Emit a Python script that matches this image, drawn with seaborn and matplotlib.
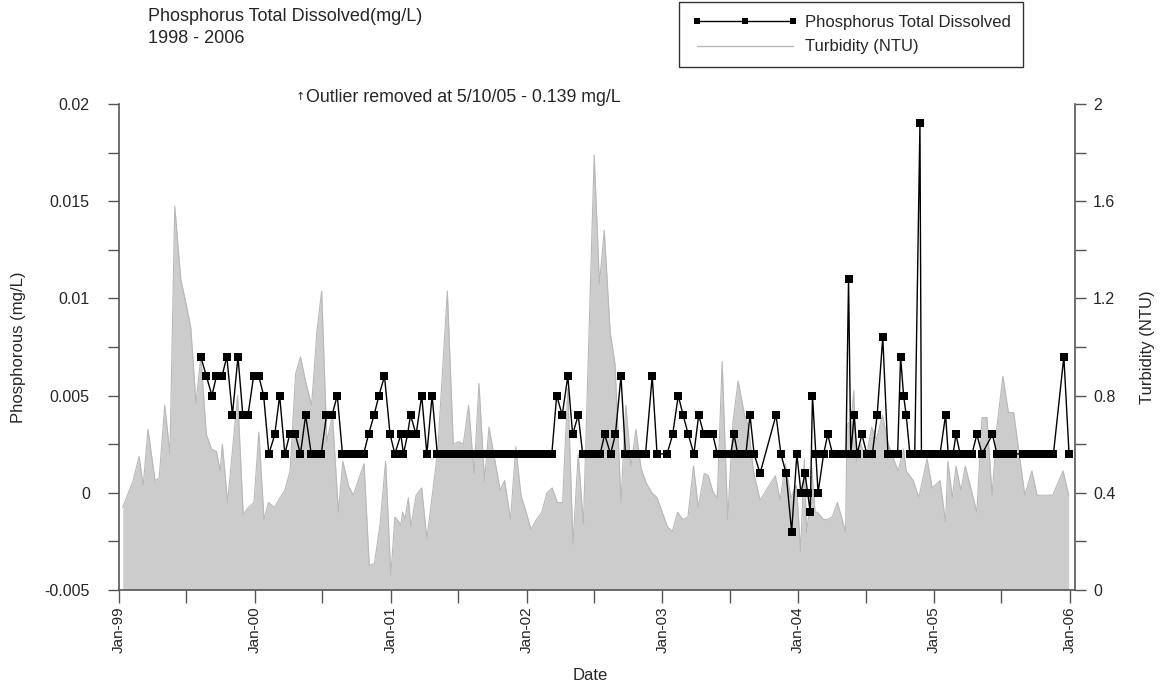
import matplotlib
matplotlib.use("Agg")
import matplotlib.pyplot as plt
import matplotlib.dates as mdates
from matplotlib.lines import Line2D
from matplotlib.ticker import MultipleLocator, FuncFormatter
import pandas as pd
import seaborn as sns

# ---- data ----
# Phosphorus Total Dissolved (mg/L), sample dates and values
p_dates = [
    '1999-08-09', '1999-08-24', '1999-09-08', '1999-09-20', '1999-10-05', '1999-10-18', '1999-11-02', '1999-11-17', '1999-11-30', '1999-12-14', '1999-12-29',
    '2000-01-12', '2000-01-25', '2000-02-08', '2000-02-24', '2000-03-08', '2000-03-22', '2000-04-04', '2000-04-19', '2000-05-03', '2000-05-17', '2000-06-01', '2000-06-15', '2000-06-28',
    '2000-07-12', '2000-07-27', '2000-08-10', '2000-08-24', '2000-09-08', '2000-09-21', '2000-10-05', '2000-10-20', '2000-11-02', '2000-11-17', '2000-11-30', '2000-12-15', '2000-12-30',
    '2001-01-12', '2001-01-28', '2001-02-04', '2001-02-15', '2001-02-23', '2001-03-10', '2001-03-25', '2001-04-08', '2001-04-22',
    '2001-05-06', '2001-05-20', '2001-06-03', '2001-06-17', '2001-07-01', '2001-07-15', '2001-07-29', '2001-08-12', '2001-08-26', '2001-09-09', '2001-09-23', '2001-10-07',
    '2001-10-21', '2001-11-04', '2001-11-18', '2001-12-02', '2001-12-16', '2001-12-30', '2002-01-13', '2002-01-27', '2002-02-10', '2002-02-24', '2002-03-10',
    '2002-03-23', '2002-04-07', '2002-04-22', '2002-05-05', '2002-05-20', '2002-06-01', '2002-06-13', '2002-06-24', '2002-07-06', '2002-07-18', '2002-07-30', '2002-08-15', '2002-08-28', '2002-09-12',
    '2002-09-24', '2002-10-08', '2002-10-21', '2002-11-04', '2002-11-17', '2002-12-05', '2002-12-18',
    '2003-01-14', '2003-01-29', '2003-02-13', '2003-02-26', '2003-03-12', '2003-03-27', '2003-04-09', '2003-04-23', '2003-05-05', '2003-05-17',
    '2003-05-29', '2003-06-10', '2003-06-22', '2003-07-04', '2003-07-13', '2003-07-23', '2003-08-03', '2003-08-14', '2003-08-25', '2003-09-05', '2003-09-21',
    '2003-11-03', '2003-11-16', '2003-11-30', '2003-12-15', '2003-12-29',
    '2004-01-09', '2004-01-20', '2004-01-27', '2004-02-03', '2004-02-09', '2004-02-18', '2004-02-24', '2004-03-10', '2004-03-21', '2004-04-03', '2004-04-17',
    '2004-05-09', '2004-05-16', '2004-05-22', '2004-05-31', '2004-06-08', '2004-06-21', '2004-07-04', '2004-07-19', '2004-08-01', '2004-08-16', '2004-08-30', '2004-09-11', '2004-09-25',
    '2004-10-03', '2004-10-11', '2004-10-18', '2004-10-28', '2004-11-10', '2004-11-24', '2004-11-28', '2004-12-09', '2004-12-21', '2005-01-01',
    '2005-01-17', '2005-02-01', '2005-02-08', '2005-02-21', '2005-03-01', '2005-03-12', '2005-03-23', '2005-04-03', '2005-04-13', '2005-04-26', '2005-05-10',
    '2005-06-07', '2005-06-19', '2005-07-01', '2005-07-11', '2005-07-22', '2005-08-02', '2005-08-29',
    '2005-09-11', '2005-09-25', '2005-10-08', '2005-10-22', '2005-11-05', '2005-11-18', '2005-12-16', '2005-12-30',
]
p_vals = [
    0.007, 0.006, 0.005, 0.006, 0.006, 0.007, 0.004, 0.007, 0.004, 0.004, 0.006,
    0.006, 0.005, 0.002, 0.003, 0.005, 0.002, 0.003, 0.003, 0.002, 0.004, 0.002, 0.002, 0.002,
    0.004, 0.004, 0.005, 0.002, 0.002, 0.002, 0.002, 0.002, 0.003, 0.004, 0.005, 0.006, 0.003,
    0.002, 0.003, 0.002, 0.003, 0.004, 0.003, 0.005, 0.002, 0.005,
    0.002, 0.002, 0.002, 0.002, 0.002, 0.002, 0.002, 0.002, 0.002, 0.002, 0.002, 0.002,
    0.002, 0.002, 0.002, 0.002, 0.002, 0.002, 0.002, 0.002, 0.002, 0.002, 0.002,
    0.005, 0.004, 0.006, 0.003, 0.004, 0.002, 0.002, 0.002, 0.002, 0.002, 0.003, 0.002, 0.003, 0.006,
    0.002, 0.002, 0.002, 0.002, 0.002, 0.006, 0.002,
    0.002, 0.003, 0.005, 0.004, 0.003, 0.002, 0.004, 0.003, 0.003, 0.003,
    0.002, 0.002, 0.002, 0.002, 0.003, 0.002, 0.002, 0.002, 0.004, 0.002, 0.001,
    0.004, 0.002, 0.001, -0.002, 0.002,
    0.000, 0.001, 0.000, -0.001, 0.005, 0.002, 0.000, 0.002, 0.003, 0.002, 0.002,
    0.002, 0.011, 0.002, 0.004, 0.002, 0.003, 0.002, 0.002, 0.004, 0.008, 0.002, 0.002, 0.002,
    0.007, 0.005, 0.004, 0.002, 0.002, 0.019, 0.002, 0.002, 0.002, 0.002,
    0.002, 0.004, 0.002, 0.002, 0.003, 0.002, 0.002, 0.002, 0.002, 0.003, 0.002,
    0.003, 0.002, 0.002, 0.002, 0.002, 0.002, 0.002,
    0.002, 0.002, 0.002, 0.002, 0.002, 0.002, 0.007, 0.002,
]

# Turbidity (NTU), sample dates and values
t_dates = [
    '1999-01-11', '1999-02-08', '1999-02-24', '1999-03-07', '1999-03-20', '1999-04-08', '1999-04-19', '1999-05-04', '1999-05-18', '1999-05-31', '1999-06-16', '1999-06-30', '1999-07-13',
    '1999-07-27', '1999-08-09', '1999-08-24', '1999-09-07', '1999-09-20', '1999-09-30', '1999-10-06', '1999-10-20', '1999-11-16', '1999-12-01', '1999-12-15', '1999-12-30',
    '2000-01-12', '2000-01-26', '2000-02-07', '2000-02-23', '2000-03-09', '2000-03-22', '2000-04-05', '2000-04-20', '2000-05-03', '2000-05-18', '2000-06-02', '2000-06-16',
    '2000-06-29', '2000-07-13', '2000-07-28', '2000-08-13', '2000-08-25', '2000-09-09', '2000-09-22', '2000-10-21', '2000-11-04', '2000-11-18', '2000-12-03', '2000-12-18',
    '2001-01-01', '2001-01-12', '2001-01-28', '2001-02-02', '2001-02-08', '2001-02-17', '2001-02-24', '2001-03-10', '2001-03-25', '2001-04-08', '2001-05-07', '2001-06-02', '2001-06-18',
    '2001-07-02', '2001-07-15', '2001-07-29', '2001-08-13', '2001-08-26', '2001-09-10', '2001-09-22', '2001-10-06', '2001-10-22', '2001-11-03', '2001-11-19', '2001-12-03', '2001-12-17', '2001-12-31',
    '2002-01-13', '2002-01-28', '2002-02-11', '2002-02-25', '2002-03-11', '2002-03-25', '2002-04-08', '2002-04-22', '2002-05-06', '2002-05-20', '2002-06-03', '2002-07-02',
    '2002-07-16', '2002-07-29', '2002-08-14', '2002-08-27', '2002-09-12', '2002-09-25', '2002-10-09', '2002-10-22', '2002-11-05', '2002-11-19', '2002-12-04', '2002-12-18',
    '2003-01-01', '2003-01-15', '2003-01-28', '2003-02-11', '2003-02-25', '2003-03-11', '2003-03-26', '2003-04-08', '2003-04-24', '2003-05-05', '2003-05-18', '2003-05-29', '2003-06-11',
    '2003-06-26', '2003-07-10', '2003-07-24', '2003-08-09', '2003-08-21', '2003-09-03', '2003-09-21', '2003-11-01', '2003-11-14', '2003-11-28', '2003-12-13', '2003-12-28',
    '2004-01-08', '2004-01-18', '2004-01-24', '2004-01-31', '2004-02-07', '2004-02-16', '2004-02-22', '2004-03-10', '2004-03-19', '2004-04-02', '2004-04-16', '2004-05-08', '2004-05-12', '2004-05-23', '2004-05-30',
    '2004-06-06', '2004-06-18', '2004-07-02', '2004-07-17', '2004-07-30', '2004-08-15', '2004-08-31', '2004-09-26', '2004-10-11', '2004-10-18', '2004-11-06', '2004-11-21', '2004-12-13', '2004-12-27',
    '2005-01-17', '2005-02-01', '2005-02-07', '2005-02-19', '2005-03-01', '2005-03-14', '2005-03-26', '2005-04-26', '2005-05-10', '2005-05-23', '2005-06-06',
    '2005-06-19', '2005-07-05', '2005-07-20', '2005-08-03', '2005-09-02', '2005-09-21', '2005-10-05', '2005-11-16', '2005-12-14', '2005-12-29',
]
t_vals = [
    0.34, 0.45, 0.55, 0.43, 0.66, 0.45, 0.46, 0.76, 0.56, 1.58, 1.28, 1.18, 1.08,
    0.77, 0.96, 0.64, 0.58, 0.57, 0.49, 0.60, 0.36, 0.80, 0.31, 0.34, 0.36,
    0.65, 0.29, 0.36, 0.34, 0.38, 0.41, 0.49, 0.89, 0.96, 0.85, 0.76, 1.06,
    1.23, 0.61, 0.72, 0.32, 0.53, 0.43, 0.39, 0.52, 0.10, 0.11, 0.27, 0.53,
    0.06, 0.30, 0.27, 0.32, 0.29, 0.38, 0.26, 0.39, 0.42, 0.21, 0.57, 1.23, 0.60,
    0.61, 0.60, 0.76, 0.48, 0.85, 0.45, 0.67, 0.55, 0.41, 0.45, 0.29, 0.59, 0.39, 0.32,
    0.25, 0.29, 0.32, 0.40, 0.42, 0.36, 0.36, 0.83, 0.19, 0.56, 0.27, 1.79,
    1.26, 1.48, 1.06, 0.93, 0.36, 0.76, 0.51, 0.66, 0.50, 0.44, 0.40, 0.38,
    0.32, 0.26, 0.24, 0.32, 0.29, 0.30, 0.51, 0.34, 0.48, 0.47, 0.40, 0.38, 0.94,
    0.29, 0.69, 0.86, 0.73, 0.67, 0.49, 0.37, 0.47, 0.37, 0.52, 0.38, 0.43,
    0.16, 0.54, 0.24, 0.32, 0.50, 0.32, 0.32, 0.29, 0.29, 0.30, 0.36, 0.24, 0.68, 0.70, 0.82,
    0.53, 0.60, 0.54, 0.67, 0.62, 0.72, 0.60, 0.49, 0.58, 0.49, 0.45, 0.38, 0.54, 0.42,
    0.45, 0.28, 0.53, 0.38, 0.51, 0.41, 0.51, 0.32, 0.71, 0.71, 0.39,
    0.67, 0.88, 0.73, 0.73, 0.39, 0.49, 0.39, 0.39, 0.49, 0.39,
]

x_ticks_years = ['1999', '2000', '2001', '2002', '2003', '2004', '2005', '2006']

phos = pd.DataFrame({'date': pd.to_datetime(p_dates), 'mgl': p_vals})
turb = pd.DataFrame({'date': pd.to_datetime(t_dates), 'ntu': t_vals})

# ---- styling ----
sns.set_theme(style="white")
plt.rcParams['font.family'] = ['Liberation Sans', 'DejaVu Sans']
axis_grey = '#555555'

W, H = 1163, 684
fig = plt.figure(figsize=(W / 100, H / 100), dpi=100)
ax = fig.add_axes([119 / W, 1 - 590 / H, (1075 - 119) / W, (590 - 104) / H])
ax2 = ax.twinx()
ax.set_zorder(ax2.get_zorder() + 1)
ax.patch.set_visible(False)

# turbidity as grey area on the right axis
ax2.fill_between(turb['date'], turb['ntu'], 0, color='#cccccc', lw=0)
sns.lineplot(data=turb, x='date', y='ntu', ax=ax2, color='#b8b8b8', lw=0.8)

# phosphorus line with square markers on the left axis
sns.lineplot(data=phos, x='date', y='mgl', ax=ax, color='black', lw=1.0,
             marker='s', markersize=5.5, markeredgewidth=0)

ax.set_ylim(-0.005, 0.02)
ax2.set_ylim(0, 2)
ax.set_xlim(pd.Timestamp('1999-01-01'), pd.Timestamp('2006-01-15'))

ax.yaxis.set_major_locator(MultipleLocator(0.005))
ax.yaxis.set_minor_locator(MultipleLocator(0.0025))
ax.yaxis.set_major_formatter(FuncFormatter(lambda v, p: f'{round(v, 4):g}'))
ax2.yaxis.set_major_locator(MultipleLocator(0.4))
ax2.yaxis.set_minor_locator(MultipleLocator(0.2))
ax2.yaxis.set_major_formatter(FuncFormatter(lambda v, p: f'{round(v, 2):g}'))

ax.set_xticks(pd.to_datetime([y + '-01-01' for y in x_ticks_years]))
ax.xaxis.set_minor_locator(mdates.MonthLocator(bymonth=7))
ax.xaxis.set_major_formatter(mdates.DateFormatter('%b-%y'))
plt.setp(ax.get_xticklabels(), rotation=90, ha='center', va='top')

ax.tick_params(axis='x', which='both', bottom=True, direction='out', length=9,
               width=1, color=axis_grey, labelsize=11, pad=3)
ax.tick_params(axis='y', which='both', left=True, direction='out', length=8,
               width=1, color=axis_grey, labelsize=11.5, pad=13)
ax2.tick_params(axis='y', which='both', right=True, direction='out', length=8,
                width=1, color=axis_grey, labelsize=11.5, pad=5)

for s in ['top', 'right']:
    ax.spines[s].set_visible(False)
for s in ['left', 'bottom']:
    ax.spines[s].set_color(axis_grey)
    ax.spines[s].set_linewidth(1.2)
for s in ['top', 'left', 'bottom']:
    ax2.spines[s].set_visible(False)
ax2.spines['right'].set_color(axis_grey)
ax2.spines['right'].set_linewidth(1.2)
ax.grid(False)
ax2.grid(False)

ax.set_xlabel('Date', fontsize=12)
ax.set_ylabel('Phosphorous (mg/L)', fontsize=12)
ax2.set_ylabel('Turbidity (NTU)', fontsize=12)
ax.xaxis.set_label_coords((590 - 119) / 956, -(668 - 590) / 486)
ax.yaxis.set_label_coords(-(119 - 26) / 956, 0.5)
ax2.yaxis.set_label_coords(1 + (1140 - 1075) / 956, 0.5)

# outlier note
ax.text((300 - 119) / 956, (590 - 97) / 486, '\u2191', transform=ax.transAxes,
        fontsize=8, ha='center', va='center', family=['DejaVu Sans'])
ax.text((306 - 119) / 956, (590 - 97) / 486,
        'Outlier removed at 5/10/05 - 0.139 mg/L', transform=ax.transAxes,
        fontsize=12.8, ha='left', va='center')

# title
fig.text(148 / W, 1 - 8 / H, 'Phosphorus Total Dissolved(mg/L)\n1998 - 2006',
         fontsize=13, ha='left', va='top', linespacing=1.35)

# legend
handles = [
    Line2D([], [], color='black', lw=1.0, marker='s', markersize=4.5, markeredgewidth=0),
    Line2D([], [], color='#b8b8b8', lw=1.0),
]
leg = fig.legend(handles, ['Phosphorus Total Dissolved', 'Turbidity (NTU)'],
                 loc='upper left', bbox_to_anchor=(679 / W, 1 - 2 / H),
                 numpoints=3, handlelength=6.4, handletextpad=0.4,
                 borderpad=0.75, labelspacing=0.6, fontsize=12,
                 frameon=True, fancybox=False, edgecolor='black', borderaxespad=0)
leg.get_frame().set_linewidth(1.0)

fig.savefig('out.png', dpi=100)
